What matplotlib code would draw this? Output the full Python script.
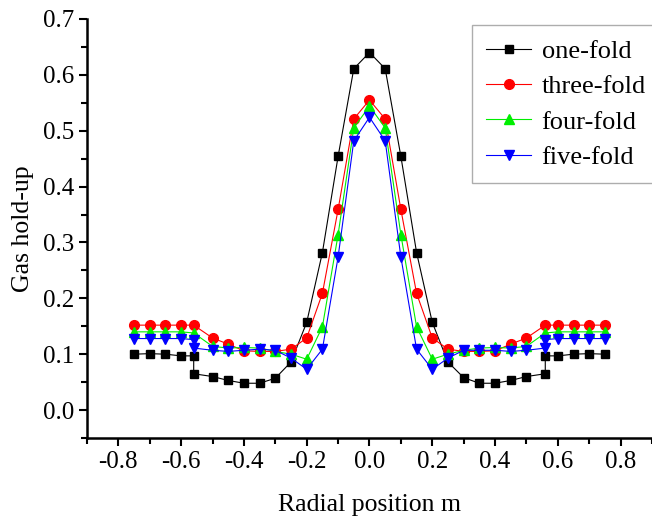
import matplotlib.pyplot as plt
from matplotlib.ticker import MultipleLocator, FormatStrFormatter

plt.rcParams['font.family'] = ['Liberation Serif', 'DejaVu Serif']

# radial positions (the +-0.56 points appear twice in two series)
x_dup = [-0.75, -0.7, -0.65, -0.6, -0.56, -0.56, -0.5, -0.45, -0.4, -0.35, -0.3, -0.25, -0.2, -0.15, -0.1, -0.05,
         0.0, 0.05, 0.1, 0.15, 0.2, 0.25, 0.3, 0.35, 0.4, 0.45, 0.5, 0.56, 0.56, 0.6, 0.65, 0.7, 0.75]
x_one = [-0.75, -0.7, -0.65, -0.6, -0.56, -0.5, -0.45, -0.4, -0.35, -0.3, -0.25, -0.2, -0.15, -0.1, -0.05,
         0.0, 0.05, 0.1, 0.15, 0.2, 0.25, 0.3, 0.35, 0.4, 0.45, 0.5, 0.56, 0.6, 0.65, 0.7, 0.75]

one_fold = [0.100, 0.101, 0.100, 0.097, 0.097, 0.065, 0.060, 0.053, 0.048, 0.048, 0.057, 0.086, 0.157, 0.282, 0.454, 0.611,
            0.640, 0.611, 0.454, 0.282, 0.157, 0.086, 0.058, 0.048, 0.048, 0.053, 0.060, 0.065, 0.097, 0.097, 0.100, 0.101, 0.100]
three_fold = [0.152, 0.152, 0.152, 0.152, 0.152, 0.129, 0.118, 0.106, 0.105, 0.105, 0.109, 0.129, 0.209, 0.359, 0.521,
              0.555, 0.521, 0.359, 0.209, 0.129, 0.109, 0.105, 0.105, 0.106, 0.118, 0.129, 0.152, 0.152, 0.152, 0.152, 0.152]
four_fold = [0.140, 0.140, 0.140, 0.140, 0.138, 0.114, 0.111, 0.112, 0.111, 0.105, 0.100, 0.091, 0.149, 0.314, 0.505,
             0.544, 0.505, 0.314, 0.149, 0.091, 0.100, 0.107, 0.111, 0.112, 0.111, 0.114, 0.138, 0.140, 0.140, 0.140, 0.140]
five_fold = [0.128, 0.128, 0.128, 0.128, 0.126, 0.111, 0.107, 0.105, 0.107, 0.109, 0.107, 0.093, 0.073, 0.109, 0.274, 0.482,
             0.524, 0.482, 0.274, 0.109, 0.073, 0.093, 0.107, 0.107, 0.107, 0.105, 0.107, 0.111, 0.126, 0.128, 0.128, 0.128, 0.128]

fig = plt.figure(figsize=(6.52, 5.2), dpi=100)
ax = fig.add_axes([0.1334, 0.1577, 0.8666, 0.8058])

ax.plot(x_dup, one_fold, color='black', lw=0.8, marker='s', ms=6, label='one-fold')
ax.plot(x_one, three_fold, color='#ff0000', lw=0.8, marker='o', ms=7, label='three-fold')
ax.plot(x_one, four_fold, color='#00ee00', lw=0.8, marker='^', ms=7, label='four-fold')
ax.plot(x_dup, five_fold, color='#0000ff', lw=0.8, marker='v', ms=7, label='five-fold')

ax.set_xlim(-0.9, 0.9)
ax.set_ylim(-0.05, 0.7)
ax.xaxis.set_major_locator(MultipleLocator(0.2))
ax.xaxis.set_minor_locator(MultipleLocator(0.1))
ax.yaxis.set_major_locator(MultipleLocator(0.1))
ax.yaxis.set_minor_locator(MultipleLocator(0.05))
ax.xaxis.set_major_formatter(FormatStrFormatter('%.1f'))
ax.yaxis.set_major_formatter(FormatStrFormatter('%.1f'))
ax.set_xticks([-0.8, -0.6, -0.4, -0.2, 0.0, 0.2, 0.4, 0.6, 0.8])
ax.set_yticks([0.0, 0.1, 0.2, 0.3, 0.4, 0.5, 0.6, 0.7])

for s in ['top', 'right']:
    ax.spines[s].set_visible(False)
for s in ['left', 'bottom']:
    ax.spines[s].set_linewidth(1.8)

ax.tick_params(which='major', direction='out', length=6, width=1.5, labelsize=18)
ax.tick_params(which='minor', direction='out', length=4, width=1.5)

ax.set_xlabel('Radial position m', fontsize=18.5, labelpad=15)
ax.set_ylabel('Gas hold-up', fontsize=18.5, labelpad=6)

leg = ax.legend(loc='upper left', bbox_to_anchor=(0.681, 0.986), borderaxespad=0, fontsize=19, frameon=True,
                fancybox=False, edgecolor='#999999', handlelength=1.7, handletextpad=0.4, labelspacing=0.45,
                borderpad=0.55)
leg.get_frame().set_linewidth(1.0)

plt.savefig('out.png', dpi=100)
